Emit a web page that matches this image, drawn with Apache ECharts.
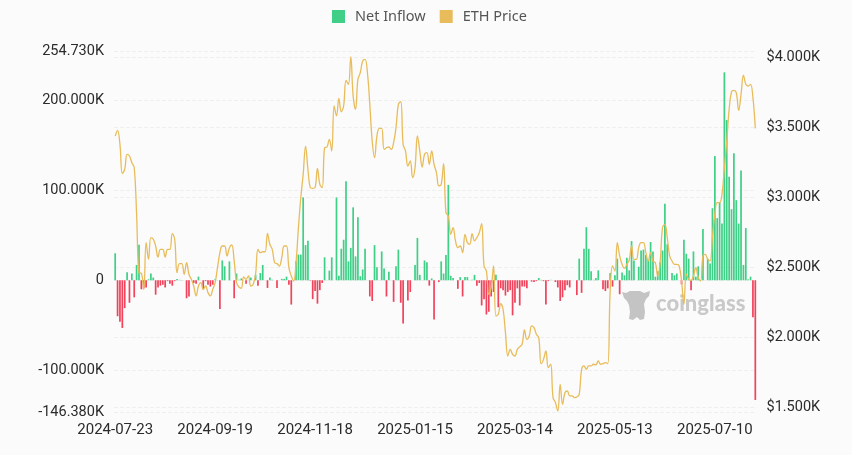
<!DOCTYPE html>
<html>
<head>
<meta charset="utf-8">
<style>
  html, body { margin: 0; padding: 0; background: #fbfbfb; }
  #chart { width: 852px; height: 455px; }
</style>
<script src="https://cdn.jsdelivr.net/npm/echarts@6/dist/echarts.min.js"></script>
</head>
<body>
<div id="chart"></div>
<script>
// net inflow, thousands, one per weekday from 2024-07-23
var netInflow = [
  30, -40, -46, -53, -31, 9, -25, 7.5, -19, 17,
  39.5, -10, -9, -8, 1, 7.5, 3, -16, -8, -6,
  -5, -8, -1, -4, -6, -1, 1.5, 0.5, 0.2, 0,
  -20, -18, 0, -3, -4, 4, 0, -10, -1, -5,
  -7, -5, 1, 0, -32, 22, 15.5, 0, 21, 0,
  -20, 7.5, 0.5, 2, 0, -4, 0, 3, 0, 6,
  -6, 8, 17, 0, -8.5, 3, 0.5, 0, -8.5, 0,
  1.5, 1.5, 4, -5, -27, 0, 21, 28.5, 28.5, 92,
  39, 44, -0.5, -21, -12, -26, -11, -3, 25.5, 0,
  10.7, 25.5, 0, 92, 5, 35, 45, 110, 21, 36,
  81, 26.5, 70, 4.5, 12, 35, 0, -18, -23, 39,
  14.5, 0, 32, 13, -18, 9.5, 0, -24, 15.5, 34,
  -25, -48, 0, -22.5, -13, 0, 17, 47, 6, 0,
  22, 20, -6, 2, -43.5, 0, -2, 21, 7.5, 28,
  106, 5, 2.5, 0, -9.5, 3.5, -18, 3.5, 3.5, 0,
  0.5, 6, -6, -3, -28, -21, -38, -35, -18, -13,
  6, -30, -9, -11, -17, -13, -11, -39, -25, -9,
  -28, -7, -7, -9, 0, -1.5, -2, -1, 2.5, 0.5,
  -1, -27, -1, 0.5, 0, -2, -8, -23, -19, -11,
  -5.5, -8, 0, 0, -16.5, 24, -14, 35, 59, 35,
  10, 0.5, 2.5, 11, 0, -10, -12, -9, 8, -7,
  5.5, 24, -15.5, 8.5, 5.5, 25, 11, 43.5, 22, 0,
  15, 33, 34, 28, 22, 42.5, 32, 4, 10, 20,
  33, 85, 40, 0, 8, 5.5, 7.5, 0, -4.5, 45,
  29.5, 24, -11, 32, 4, 15.5, 0, 57, 0, 24,
  18.5, 80, 138, 69, 87, 63, 231, 178, 115, 79,
  141, 89, 63, 122, 17, 58, 1, 4, -41, -133
]

// ETH price, dollars
var ethPrice = [
  3436, 3476, 3376, 3167, 3198, 3305, 3293, 3245, 3209, 2876,
  2459, 2455, 2340, 2674, 2555, 2710, 2698, 2650, 2571, 2626,
  2626, 2571, 2626, 2626, 2738, 2698, 2459, 2524, 2524, 2448,
  2531, 2448, 2412, 2364, 2293, 2364, 2388, 2340, 2364, 2317,
  2293, 2340, 2388, 2495, 2602, 2650, 2650, 2579, 2638, 2657,
  2543, 2388, 2357, 2348, 2429, 2412, 2436, 2364, 2376, 2448,
  2626, 2602, 2609, 2609, 2740, 2662, 2626, 2531, 2524, 2507,
  2567, 2650, 2650, 2495, 2436, 2400, 2531, 2781, 2995, 3162,
  3364, 3198, 3067, 3062, 3067, 3205, 3090, 3067, 3352, 3357,
  3412, 3329, 3650, 3579, 3705, 3609, 3650, 3833, 3805, 4000,
  3721, 3626, 3840, 3888, 3971, 3983, 3888, 3662, 3400, 3281,
  3436, 3490, 3490, 3340, 3352, 3357, 3340, 3388, 3495, 3662,
  3681, 3376, 3329, 3221, 3257, 3138, 3209, 3436, 3329, 3214,
  3305, 3317, 3233, 3329, 3233, 3174, 3079, 3090, 3238, 2888,
  2864, 2733, 2781, 2686, 2638, 2650, 2602, 2733, 2674, 2662,
  2738, 2686, 2710, 2745, 2809, 2507, 2471, 2305, 2352, 2507,
  2150, 2162, 2238, 2198, 2031, 1864, 1912, 1876, 1864, 1912,
  1929, 1948, 2050, 1983, 2007, 2079, 2067, 2019, 1995, 1809,
  1840, 1900, 1781, 1805, 1567, 1531, 1471, 1662, 1519, 1602,
  1614, 1579, 1579, 1567, 1571, 1590, 1769, 1793, 1769, 1793,
  1793, 1805, 1800, 1829, 1805, 1809, 1817, 1809, 2329, 2507,
  2471, 2674, 2579, 2519, 2490, 2519, 2548, 2650, 2555, 2555,
  2638, 2674, 2674, 2602, 2543, 2602, 2543, 2531, 2436, 2531,
  2781, 2805, 2710, 2579, 2543, 2519, 2519, 2507, 2400, 2233,
  2448, 2412, 2405, 2436, 2495, 2424, 2400, 2579, 2590, 2555,
  2543, 2720, 2880, 2960, 2960, 3019, 3210, 3400, 3626, 3752,
  3762, 3745, 3619, 3733, 3871, 3805, 3793, 3805, 3710, 3490
]

var inflowTicks = [-146.38, -100, 0, 100, 200, 254.73]
var priceTicks = [1500, 2000, 2500, 3000, 3500, 4000]

var GREEN = '#3fcf86'
var RED = '#f0435c'
var GOLD = '#e8bc5a'
var FONT = 'Roboto'

// trading days only, weekends are skipped
var buildDates = function (start, count) {
  var list = []
  var d = new Date(start + 'T00:00:00Z')
  while (list.length < count) {
    var day = d.getUTCDay()
    if (day !== 0 && day !== 6) {
      list.push(d.toISOString().slice(0, 10))
    }
    d.setUTCDate(d.getUTCDate() + 1)
  }
  return list
}

var dates = buildDates('2024-07-23', netInflow.length)

var chart = echarts.init(document.getElementById('chart'))

var splitLine = {
  show: true,
  lineStyle: { color: '#efefef', type: 'dashed', width: 1 }
}

chart.setOption({
  backgroundColor: '#fbfbfb',
  animation: false,
  legend: {
    top: 4,
    left: 327,
    icon: 'rect',
    itemWidth: 13,
    itemHeight: 13,
    itemGap: 14,
    textStyle: { fontFamily: 'Noto Sans', fontSize: 14.5, color: '#555', padding: [0, 0, 0, 5] },
    data: ['Net Inflow', 'ETH Price']
  },
  grid: { left: 114, right: 95.5, top: 51, bottom: 43 },
  xAxis: {
    type: 'category',
    data: dates,
    axisLine: { show: false, onZero: false },
    axisTick: { show: false },
    axisLabel: {
      interval: 41,
      margin: 11,
      hideOverlap: false,
      fontFamily: FONT,
      fontSize: 15,
      color: '#2b2b2b'
    }
  },
  yAxis: [
    {
      type: 'value',
      min: inflowTicks[0],
      max: inflowTicks[inflowTicks.length - 1],
      axisLine: { show: false },
      axisTick: { show: false, customValues: inflowTicks },
      splitLine: splitLine,
      axisLabel: {
        customValues: inflowTicks,
        margin: 10,
        padding: [2, 0, 0, 0],
        fontFamily: FONT,
        fontSize: 14.5,
        color: '#2b2b2b',
        formatter: function (v) {
          return v === 0 ? '0' : v.toFixed(3) + 'K'
        }
      }
    },
    {
      type: 'value',
      position: 'right',
      min: 1464,
      max: 4043,
      axisLine: { show: false },
      axisTick: { show: false, customValues: priceTicks },
      splitLine: splitLine,
      axisLabel: {
        customValues: priceTicks,
        margin: 10,
        padding: [2, 0, 0, 0],
        fontFamily: FONT,
        fontSize: 14.5,
        color: '#2b2b2b',
        formatter: function (v) {
          return '$' + (v / 1000).toFixed(3) + 'K'
        }
      }
    }
  ],
  series: [
    {
      name: 'Net Inflow',
      type: 'bar',
      barWidth: '72%',
      itemStyle: { color: GREEN },
      data: netInflow.map(function (v) {
        return v < 0 ? { value: v, itemStyle: { color: RED } } : v
      })
    },
    {
      name: 'ETH Price',
      type: 'line',
      yAxisIndex: 1,
      smooth: 0.4,
      showSymbol: false,
      itemStyle: { color: GOLD },
      lineStyle: { color: GOLD, width: 1.3 },
      data: ethPrice,
      z: 5
    }
  ],
  // coinglass watermark
  graphic: [
    {
      type: 'polygon',
      silent: true,
      z: 1,
      shape: {
        points: [[622, 292], [626, 293], [630, 291], [640, 291], [644, 293], [650, 291], [649, 296], [646, 299], [644, 304], [645, 312], [644, 319], [640, 320], [637, 317], [633, 320], [629, 319], [630, 312], [629, 305], [627, 301], [624, 298]]
      },
      style: { fill: '#c4c4c4' }
    },
    {
      type: 'text',
      silent: true,
      z: 1,
      left: 656,
      top: 293,
      style: { text: 'coinglass', font: '900 22px Lato', fill: '#c9c9c9' }
    }
  ]
})
</script>
</body>
</html>
